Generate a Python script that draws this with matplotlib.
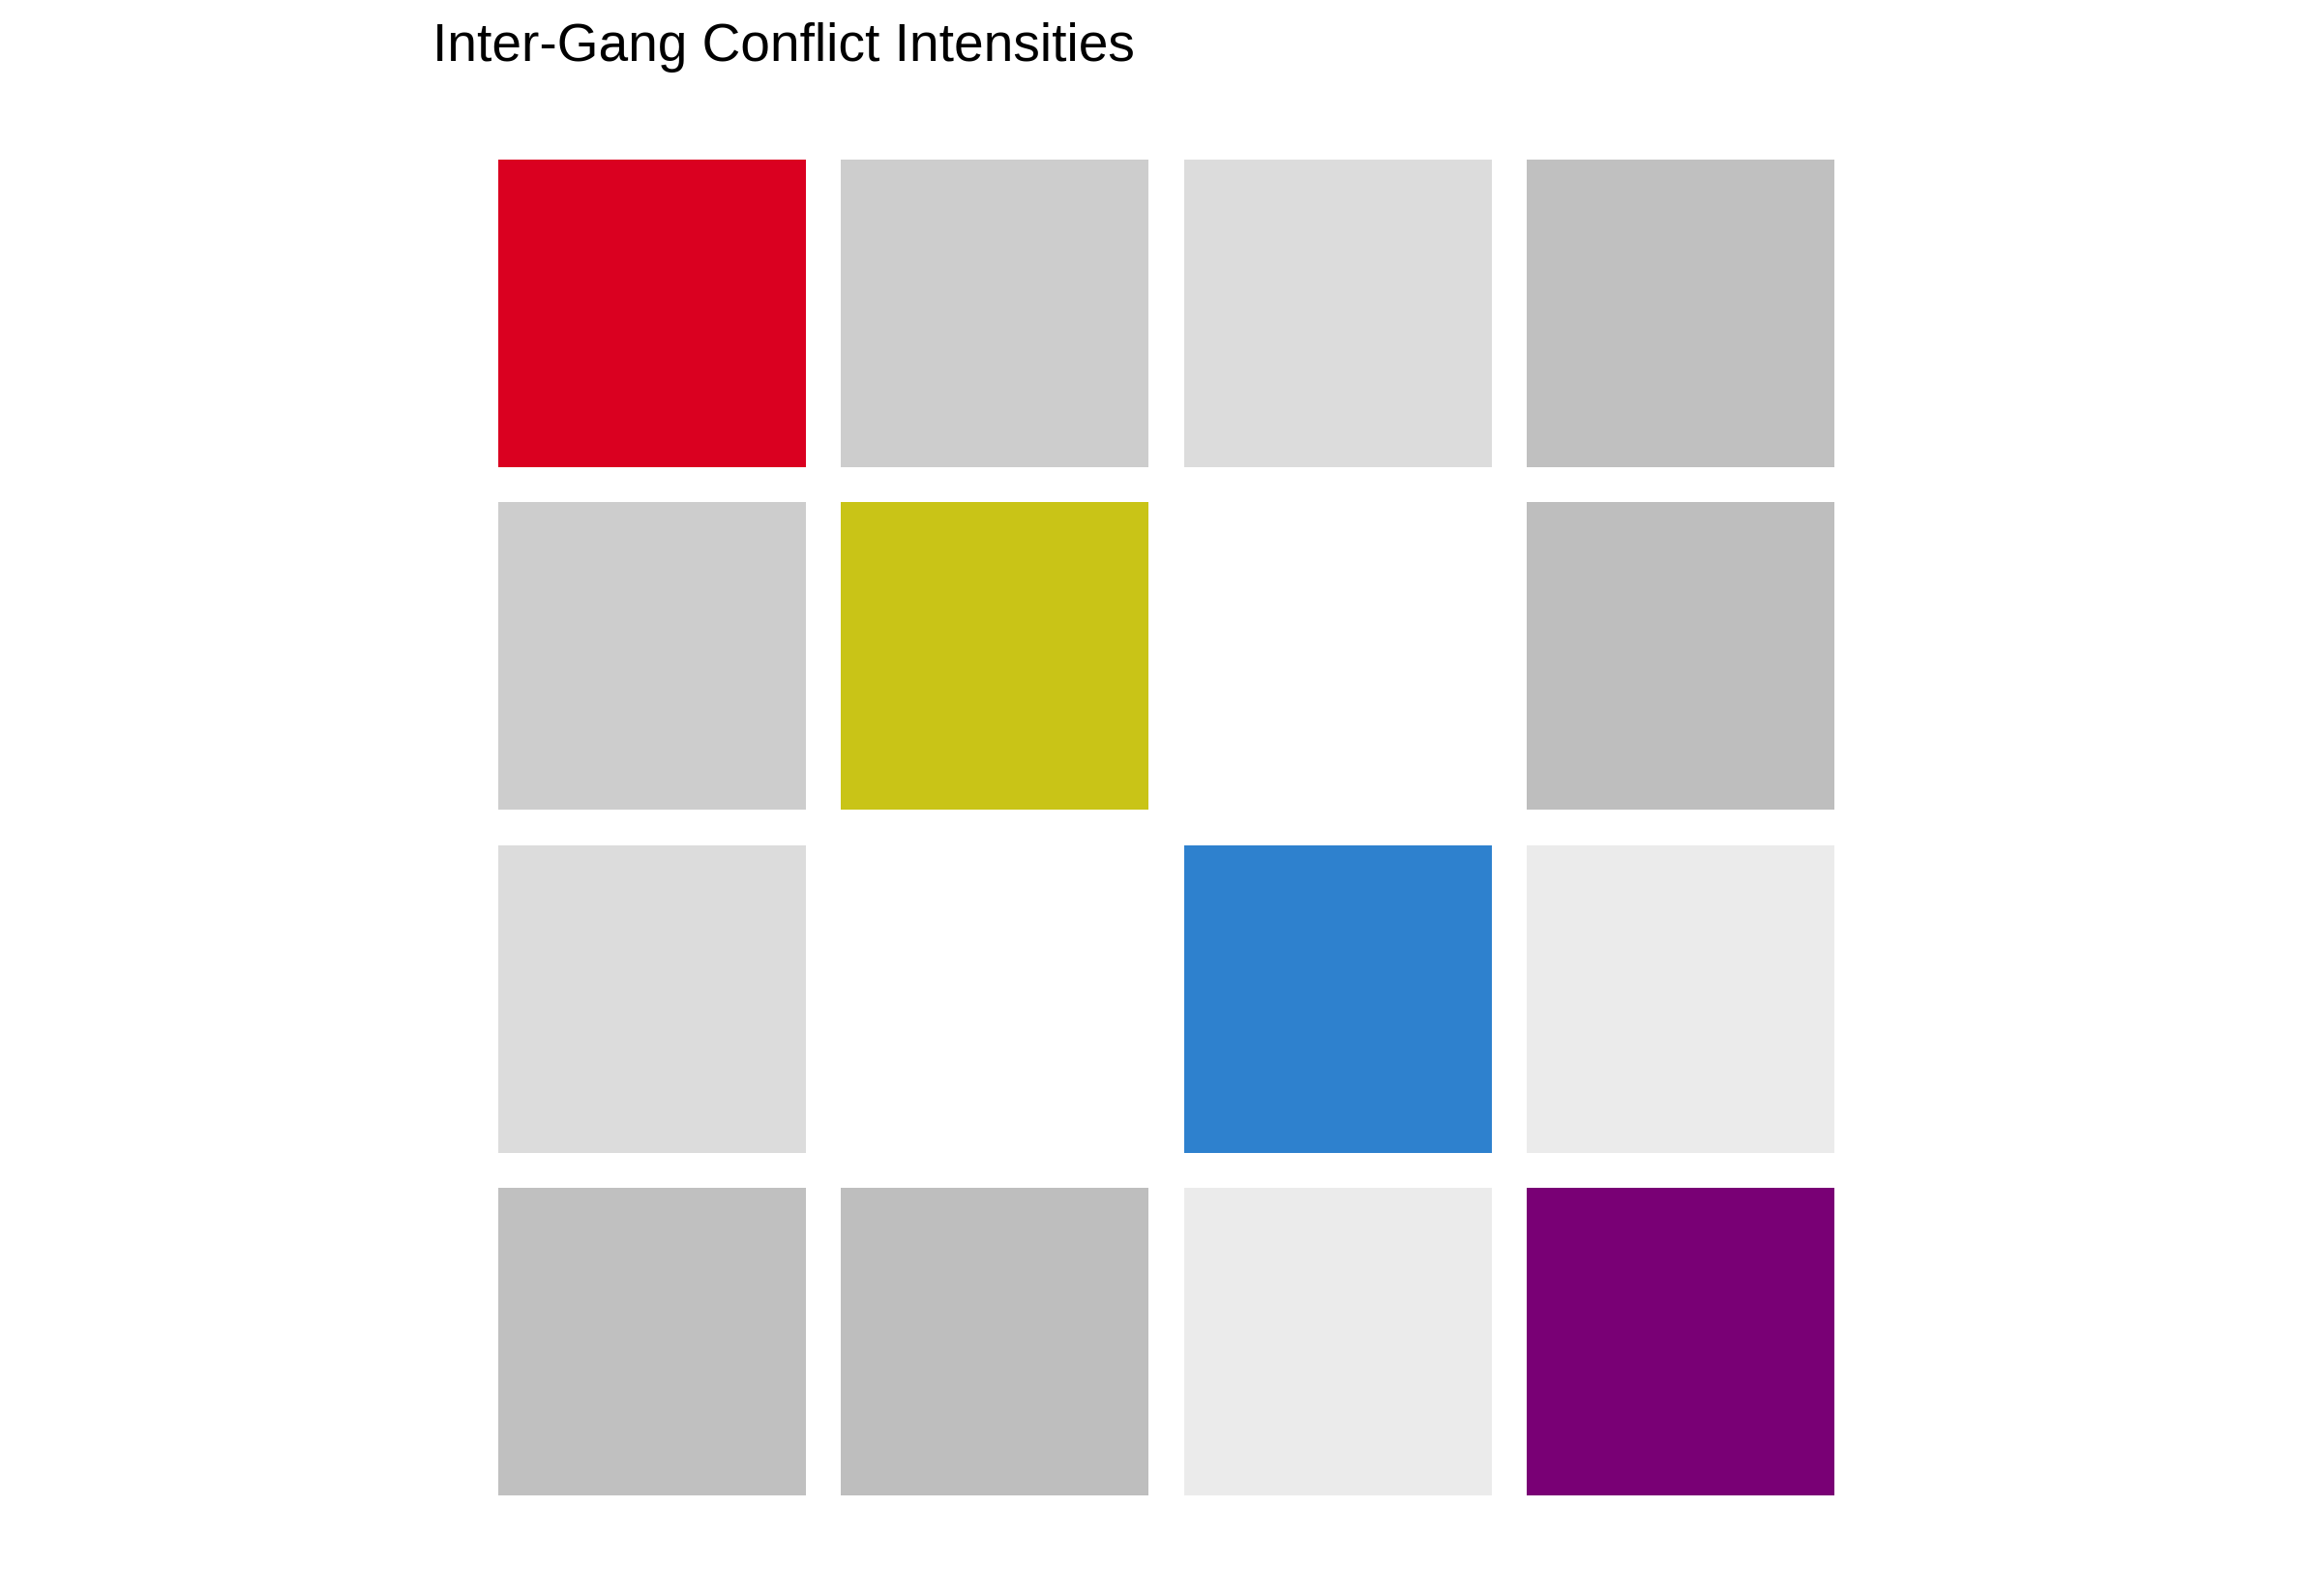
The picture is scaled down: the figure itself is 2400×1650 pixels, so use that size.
import matplotlib
matplotlib.use("Agg")
import matplotlib.pyplot as plt
from matplotlib.colors import LinearSegmentedColormap, Normalize

# Data
gangs = ["Gang A", "Gang B", "Gang C", "Gang D"]
gang_colors = ["#DA0020", "#C9C417", "#2E81CE", "#790075"]
# Conflict intensities (symmetric matrix, diagonal = own gang)
intensity = [
    [0, 10, 7, 12.6],
    [10, 0, 0, 13],
    [7, 0, 0, 4],
    [12.6, 13, 4, 0],
]
vmax_scale = 51.0

plt.rcParams['font.family'] = ['Liberation Sans', 'DejaVu Sans']

fig = plt.figure(figsize=(12, 8.25), dpi=200)
ax = fig.add_axes([515/2400, 1 - 1546/1650, (1896-515)/2400, (1546-165)/1650])

cmap = LinearSegmentedColormap.from_list("wb", ["#FFFFFF", "#000000"])
norm = Normalize(0, vmax_scale)

n = len(gangs)
w = 0.898
for i in range(n):
    for j in range(n):
        if i == j:
            color = gang_colors[i]
        else:
            v = intensity[i][j]
            if v == 0:
                continue
            color = cmap(norm(v))
        ax.bar(j, w, width=w, bottom=i - w/2, color=color, linewidth=0)

ax.set_xlim(-w/2, n - 1 + w/2)
ax.set_ylim(n - 1 + w/2, -w/2)
ax.axis('off')

fig.text(447/2400, 1 - 63/1650, "Inter-Gang Conflict Intensities",
         fontsize=19.8, ha='left', va='baseline', color='black')

fig.savefig("out.png", dpi=200, facecolor='white')
